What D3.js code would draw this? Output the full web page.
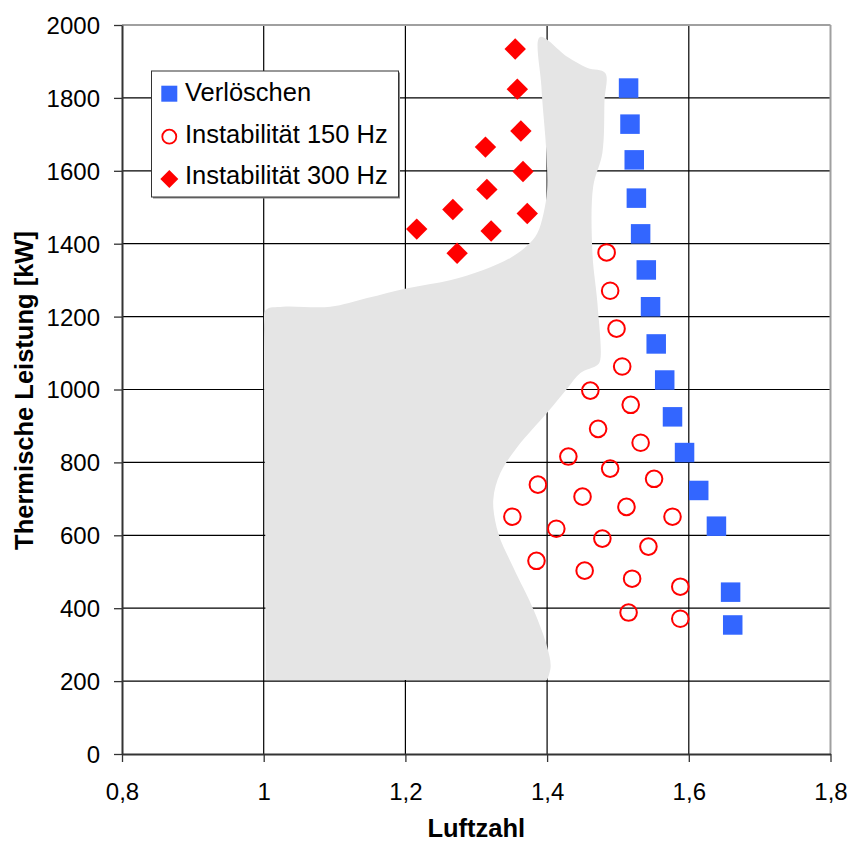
<!DOCTYPE html>
<html><head><meta charset="utf-8">
<script src="https://cdn.jsdelivr.net/npm/d3@7"></script>
<style>body{margin:0;background:#fff}</style>
</head><body>
<svg id="c" width="852" height="841"></svg>
<script>
// ---- data ----
const xTicks = [0.8, 1.0, 1.2, 1.4, 1.6, 1.8];
const xTickLabels = ["0,8", "1", "1,2", "1,4", "1,6", "1,8"];
const yTicks = [0, 200, 400, 600, 800, 1000, 1200, 1400, 1600, 1800, 2000];
const yTickLabels = ["0", "200", "400", "600", "800", "1000", "1200", "1400", "1600", "1800", "2000"];
const seriesNames = ["Verlöschen", "Instabilität 150 Hz", "Instabilität 300 Hz"];
const xLabel = "Luftzahl";
const yLabel = "Thermische Leistung [kW]";

// Verlöschen (blue squares): [Luftzahl, kW]
const verloeschen = [
  [1.515, 1827], [1.517, 1728], [1.523, 1630], [1.526, 1525], [1.532, 1427],
  [1.540, 1328], [1.546, 1227], [1.554, 1125], [1.566, 1026], [1.577, 925],
  [1.594, 827], [1.614, 723], [1.639, 625], [1.659, 444], [1.662, 354]
];
// Instabilität 150 Hz (open red circles)
const instab150 = [
  [1.484, 1376], [1.489, 1271], [1.498, 1167], [1.506, 1063], [1.461, 997],
  [1.518, 958], [1.472, 892], [1.532, 854], [1.430, 816], [1.489, 783],
  [1.551, 755], [1.387, 739], [1.450, 706], [1.512, 678], [1.351, 651],
  [1.577, 651], [1.413, 618], [1.478, 591], [1.543, 569], [1.385, 530],
  [1.453, 503], [1.520, 481], [1.588, 459], [1.515, 388], [1.588, 371]
];
// Instabilität 300 Hz (red diamonds)
const instab300 = [
  [1.355, 1934], [1.358, 1824], [1.363, 1709], [1.313, 1665], [1.366, 1598],
  [1.315, 1549], [1.267, 1494], [1.372, 1483], [1.216, 1440], [1.321, 1435],
  [1.273, 1374]
];
// Grey stable operating region outline: [Luftzahl, kW]
const stableRegion = [
  [1.003, 203], [1.002, 697], [1.001, 1163], [1.003, 1218], [1.027, 1227],
  [1.094, 1227], [1.146, 1251], [1.203, 1278], [1.263, 1300], [1.310, 1328],
  [1.348, 1361], [1.372, 1395], [1.386, 1428], [1.395, 1483], [1.400, 1547],
  [1.399, 1649], [1.392, 1830], [1.390, 1967], [1.429, 1912], [1.457, 1882],
  [1.482, 1868], [1.481, 1794], [1.478, 1649], [1.465, 1556], [1.464, 1374],
  [1.471, 1237], [1.475, 1081], [1.471, 1067], [1.447, 1045], [1.429, 1004],
  [1.400, 936], [1.358, 842], [1.334, 771], [1.324, 697], [1.331, 606],
  [1.352, 513], [1.381, 395], [1.400, 294], [1.405, 239], [1.400, 203]
];

// ---- layout ----
const FONT = "'Liberation Sans', Arial, Helvetica, sans-serif";
const svg = d3.select("#c");
const x = d3.scaleLinear().domain([0.8, 1.8]).range([122, 830.5]);
const y = d3.scaleLinear().domain([0, 2000]).range([754, 25]);

// gridlines
const grid = svg.append("g");
grid.selectAll("line.v").data(xTicks.slice(1, -1)).enter().append("line")
  .attr("x1", d => x(d)).attr("x2", d => x(d))
  .attr("y1", y(0)).attr("y2", y(2000))
  .attr("stroke", "#000").attr("stroke-width", 1.2);
grid.selectAll("line.h").data(yTicks.slice(1, -1)).enter().append("line")
  .attr("x1", x(0.8)).attr("x2", x(1.8))
  .attr("y1", d => y(d)).attr("y2", d => y(d))
  .attr("stroke", "#000").attr("stroke-width", 1.2);

// plot border top/right (grey)
svg.append("line").attr("x1", x(0.8)).attr("x2", x(1.8)).attr("y1", y(2000)).attr("y2", y(2000))
  .attr("stroke", "#a0a0a0").attr("stroke-width", 2);
svg.append("line").attr("x1", x(1.8)).attr("x2", x(1.8)).attr("y1", y(2000)).attr("y2", y(0))
  .attr("stroke", "#a0a0a0").attr("stroke-width", 2);

// grey region
const area = d3.line().x(d => x(d[0])).y(d => y(d[1])).curve(d3.curveCatmullRom.alpha(0.5));
svg.append("path").attr("d", area(stableRegion) + "Z").attr("fill", "#e5e5e5").attr("stroke", "none");

// axes
const xAxis = d3.axisBottom(x).tickValues(xTicks).tickFormat((d, i) => xTickLabels[i])
  .tickSize(8).tickPadding(14).tickSizeOuter(0);
const yAxis = d3.axisLeft(y).tickValues(yTicks).tickFormat((d, i) => yTickLabels[i])
  .tickSize(8).tickPadding(14).tickSizeOuter(0);
const gx = svg.append("g").attr("transform", `translate(0,${y(0)})`).call(xAxis);
const gy = svg.append("g").attr("transform", `translate(${x(0.8)},0)`).call(yAxis);
[gx, gy].forEach(g => {
  g.select(".domain").attr("stroke", "#333").attr("stroke-width", 2);
  g.selectAll(".tick line").attr("stroke", "#333").attr("stroke-width", 1.3);
  g.selectAll(".tick text").attr("font-family", FONT).attr("font-size", 24).attr("fill", "#000");
});
gx.selectAll(".tick text").attr("dy", null).attr("y", 46 - 0).attr("dominant-baseline", "auto");
gy.selectAll(".tick text").attr("dy", "0.35em");

// axis titles
svg.append("text").attr("x", (x(0.8) + x(1.8)) / 2).attr("y", 837)
  .attr("text-anchor", "middle").attr("font-family", FONT).attr("font-weight", "bold")
  .attr("font-size", 25.5).text(xLabel);
svg.append("text").attr("transform", `translate(33,${(y(0) + y(2000)) / 2 + 1}) rotate(-90)`)
  .attr("text-anchor", "middle").attr("font-family", FONT).attr("font-weight", "bold")
  .attr("font-size", 25.5).text(yLabel);

// markers
const BLUE = "#3366ff", RED = "#ff0000";
const sq = 19.5;
svg.append("g").selectAll("rect").data(verloeschen).enter().append("rect")
  .attr("x", d => x(d[0]) - sq / 2).attr("y", d => y(d[1]) - sq / 2)
  .attr("width", sq).attr("height", sq).attr("fill", BLUE);
svg.append("g").selectAll("circle").data(instab150).enter().append("circle")
  .attr("cx", d => x(d[0])).attr("cy", d => y(d[1])).attr("r", 8.3)
  .attr("fill", "none").attr("stroke", RED).attr("stroke-width", 2);
const dm = 10.7;
svg.append("g").selectAll("path").data(instab300).enter().append("path")
  .attr("d", d => { const cx = x(d[0]), cy = y(d[1]);
    return `M${cx},${cy - dm}L${cx + dm},${cy}L${cx},${cy + dm}L${cx - dm},${cy}Z`; })
  .attr("fill", RED);

// legend
const lg = svg.append("g");
lg.append("rect").attr("x", 153).attr("y", 72.5).attr("width", 247).attr("height", 126)
  .attr("fill", "#888");
lg.append("rect").attr("x", 151.5).attr("y", 71).attr("width", 247).attr("height", 126)
  .attr("fill", "#fff").attr("stroke", "#333").attr("stroke-width", 1);
const legY = [93.7, 136.7, 179];
const legBase = [101, 142.7, 184.3];
const lx = 169.3;
lg.append("rect").attr("x", lx - 8).attr("y", legY[0] - 8).attr("width", 16).attr("height", 16).attr("fill", BLUE);
lg.append("circle").attr("cx", lx).attr("cy", legY[1]).attr("r", 7).attr("fill", "none")
  .attr("stroke", RED).attr("stroke-width", 1.8);
const ld = 9;
lg.append("path").attr("d", `M${lx},${legY[2] - ld}L${lx + ld},${legY[2]}L${lx},${legY[2] + ld}L${lx - ld},${legY[2]}Z`)
  .attr("fill", RED);
lg.selectAll("text").data(seriesNames).enter().append("text")
  .attr("x", 185).attr("y", (d, i) => legBase[i])
  .attr("font-family", FONT).attr("font-size", 25.5).attr("fill", "#000").text(d => d);
</script>
</body></html>
